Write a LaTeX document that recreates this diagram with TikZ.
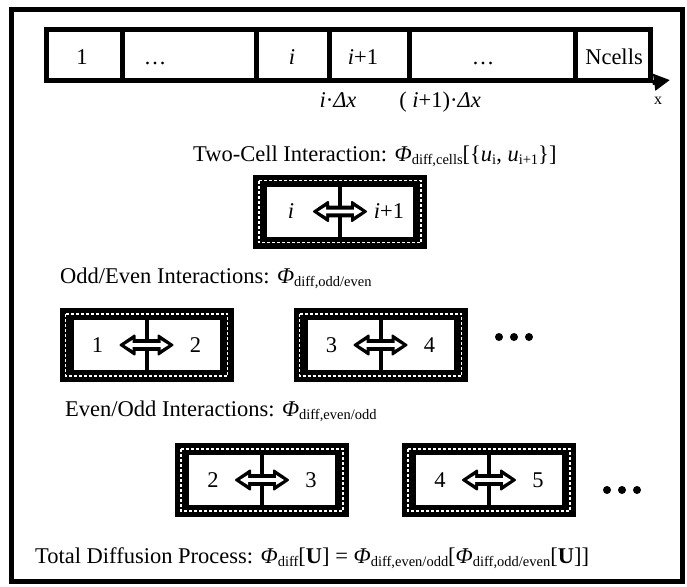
\documentclass[tikz,border=0pt]{standalone}
\usepackage{fontspec}
\setmainfont{Liberation Serif}
\usetikzlibrary{arrows.meta}
\newcommand\sbs[1]{\raisebox{-3.5pt}{\fontsize{14.5}{14.5}\selectfont #1}}
\tikzset{
  txt/.style={inner sep=0pt, font=\fontsize{22.5}{26}\selectfont},
  cellbox/.style={draw, line width=5pt, minimum height=50pt, inner sep=0pt},
  boxouter/.style={rectangle, fill=black, minimum width=174pt, minimum height=74pt, inner sep=0pt},
  boxinner/.style={rectangle, fill=white, minimum width=146pt, minimum height=50pt, inner sep=0pt},
  boxdash/.style={draw=white, line width=1.3pt, dash pattern=on 3pt off 2pt},
  divider/.style={line width=4pt},
  arrowout/.style={draw=black, fill=black, line width=2pt, line join=round},
  arrowin/.style={fill=white},
  dotnode/.style={circle, fill=black, inner sep=0pt, minimum size=8pt},
  frame/.style={line width=5pt}
}
\newcommand\PairBox[4]{%
  \begin{scope}[shift={#2}]
    \node[boxouter] (#1) at (0,0) {};
    \draw[boxdash] (-81,-31) rectangle (81,31);
    \node[boxinner] (#1-in) at (0,0) {};
    \draw[divider] (#1-in.north) -- (#1-in.south);
    \filldraw[arrowout] (-26,0) -- (-12,-9.5) -- (-12,-4.8) -- (12,-4.8) -- (12,-9.5) -- (26,0)
       -- (12,9.5) -- (12,4.8) -- (-12,4.8) -- (-12,9.5) -- cycle;
    \fill[arrowin] (-22,0) -- (-14,-5) -- (-14,-1.8) -- (14,-1.8) -- (14,-5) -- (22,0)
       -- (14,5) -- (14,1.8) -- (-14,1.8) -- (-14,5) -- cycle;
    \node[txt] (#1-l) at (-49,0) {#3};
    \node[txt] (#1-r) at (49,0) {#4};
  \end{scope}}
\begin{document}
\begin{tikzpicture}[x=1pt, y=-1pt]
\useasboundingbox (0,0) rectangle (687,586);
\draw[frame] (11,10) rectangle (682,581);
% cell strip
\node[cellbox, minimum width=76pt] (c1) at (84,55) {};
\node[cellbox, minimum width=134pt] (c2) at (189,55) {};
\node[cellbox, minimum width=73pt] (c3) at (292.5,55) {};
\node[cellbox, minimum width=80pt] (c4) at (369,55) {};
\node[cellbox, minimum width=166pt] (c5) at (492,55) {};
\node[cellbox, minimum width=75pt] (c6) at (612.5,55) {};
\coordinate (xend) at (670,80);
\draw[line width=5pt, -{Triangle[length=16pt,width=16pt]}] (c6.south east) -- (xend);
\node[txt, anchor=base] (l1) at (82,64) {1};
\node[txt, anchor=base] (l2) at (155,64) {…};
\node[txt, anchor=base] (l3) at (292,64) {\textit{i}};
\node[txt, anchor=base] (l4) at (363,64) {\textit{i}+1};
\node[txt, anchor=base] (l5) at (483,64) {…};
\node[txt, anchor=base] (l6) at (614,64) {Ncells};
\node[txt, anchor=base] (p1) at (338,107) {\textit{i}·\textit{Δx}};
\node[txt, anchor=base] (p2) at (440,107) {( \textit{i}+1)·\textit{Δx}};
\node[txt, anchor=base] (xl) at (658,104) {\fontsize{16}{16}\selectfont x};
% two-cell
\node[txt, anchor=base west] (t1) at (193,161) {Two-Cell Interaction: \textit{Φ}\sbs{diff,cells}[\{\textit{u}\sbs{i}, \textit{u}\sbs{i+1}\}]};
\PairBox{b0}{(340,211.5)}{\textit{i}}{\textit{i}+1}
% odd/even
\node[txt, anchor=base west] (t2) at (60,283) {Odd/Even Interactions: \textit{Φ}\sbs{diff,odd/even}};
\PairBox{b1}{(146.5,345)}{1}{2}
\PairBox{b2}{(380.5,345)}{3}{4}
\node[dotnode] (d1) at (499,337) {};
\node[dotnode] (d2) at (514,337) {};
\node[dotnode] (d3) at (529,337) {};
% even/odd
\node[txt, anchor=base west] (t3) at (65,416) {Even/Odd Interactions: \textit{Φ}\sbs{diff,even/odd}};
\PairBox{b3}{(262,480)}{2}{3}
\PairBox{b4}{(489,480)}{4}{5}
\node[dotnode] (d4) at (607,490) {};
\node[dotnode] (d5) at (622,490) {};
\node[dotnode] (d6) at (637,490) {};
% total
\node[txt, anchor=base west] (t4) at (35,563) {Total Diffusion Process: \textit{Φ}\sbs{diff}[\textbf{U}] = \textit{Φ}\sbs{diff,even/odd}[\textit{Φ}\sbs{diff,odd/even}[\textbf{U}]]};
\end{tikzpicture}
\end{document}
